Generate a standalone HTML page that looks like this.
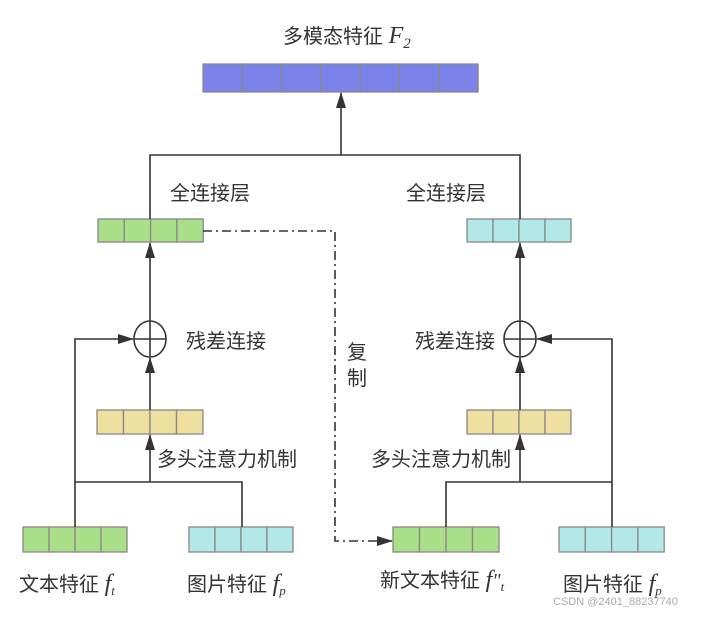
<!DOCTYPE html>
<html><head><meta charset="utf-8"><style>
body{margin:0;background:#fff}
svg text{font-family:"Liberation Sans","Noto Sans CJK SC",sans-serif;fill:#333;font-size:20px}
.m{font-family:"Liberation Serif",serif;font-style:italic}
</style></head><body>
<svg width="709" height="613" viewBox="0 0 709 613" xmlns="http://www.w3.org/2000/svg">
<defs>
<marker id="b" markerWidth="16" markerHeight="10" refX="15" refY="5" orient="auto" markerUnits="userSpaceOnUse"><path d="M0,0 L16,5 L0,10 z" fill="#333"/></marker>
</defs>
<g stroke="#888" stroke-width="1.3">
<g fill="#7b83eb"><rect x="203" y="64" width="39.3" height="28"/><rect x="242.3" y="64" width="39.3" height="28"/><rect x="281.6" y="64" width="39.3" height="28"/><rect x="320.9" y="64" width="39.3" height="28"/><rect x="360.2" y="64" width="39.3" height="28"/><rect x="399.5" y="64" width="39.3" height="28"/><rect x="438.8" y="64" width="39.3" height="28"/></g>
<g fill="#a8df88"><rect x="98" y="219" width="26.3" height="23"/><rect x="124.3" y="219" width="26.3" height="23"/><rect x="150.6" y="219" width="26.3" height="23"/><rect x="176.9" y="219" width="26.3" height="23"/></g>
<g fill="#b3e8e8"><rect x="467" y="219" width="26" height="23"/><rect x="493" y="219" width="26" height="23"/><rect x="519" y="219" width="26" height="23"/><rect x="545" y="219" width="26" height="23"/></g>
<g fill="#f0e0a0"><rect x="97" y="410" width="26.5" height="24"/><rect x="123.5" y="410" width="26.5" height="24"/><rect x="150" y="410" width="26.5" height="24"/><rect x="176.5" y="410" width="26.5" height="24"/>
<rect x="467" y="410" width="26" height="24"/><rect x="493" y="410" width="26" height="24"/><rect x="519" y="410" width="26" height="24"/><rect x="545" y="410" width="26" height="24"/></g>
<g fill="#a8df88"><rect x="23" y="527" width="26" height="25"/><rect x="49" y="527" width="26" height="25"/><rect x="75" y="527" width="26" height="25"/><rect x="101" y="527" width="26" height="25"/>
<rect x="393" y="527" width="26.5" height="25"/><rect x="419.5" y="527" width="26.5" height="25"/><rect x="446" y="527" width="26.5" height="25"/><rect x="472.5" y="527" width="26.5" height="25"/></g>
<g fill="#b3e8e8"><rect x="189" y="527" width="26" height="25"/><rect x="215" y="527" width="26" height="25"/><rect x="241" y="527" width="26" height="25"/><rect x="267" y="527" width="26" height="25"/>
<rect x="559" y="527" width="26.3" height="25"/><rect x="585.3" y="527" width="26.3" height="25"/><rect x="611.6" y="527" width="26.3" height="25"/><rect x="637.9" y="527" width="26.3" height="25"/></g>
</g>
<g stroke="#333" stroke-width="1.6" fill="none">
<line x1="341" y1="155" x2="341" y2="93" marker-end="url(#b)"/>
<polyline points="150,219 150,155 520,155 520,219"/>
<line x1="150" y1="321" x2="150" y2="243" marker-end="url(#b)"/>
<line x1="520" y1="321" x2="520" y2="243" marker-end="url(#b)"/>
<ellipse cx="150" cy="339" rx="16" ry="18"/><line x1="134" y1="339" x2="166" y2="339"/><line x1="150" y1="321" x2="150" y2="357"/>
<ellipse cx="520" cy="339" rx="16" ry="18"/><line x1="504" y1="339" x2="536" y2="339"/><line x1="520" y1="321" x2="520" y2="357"/>
<line x1="150" y1="410" x2="150" y2="358" marker-end="url(#b)"/>
<line x1="520" y1="410" x2="520" y2="358" marker-end="url(#b)"/>
<line x1="150" y1="482" x2="150" y2="435" marker-end="url(#b)"/>
<line x1="520" y1="482" x2="520" y2="435" marker-end="url(#b)"/>
<polyline points="75,527 75,339 133,339" marker-end="url(#b)"/>
<polyline points="75,482 242,482 242,527"/>
<polyline points="446,527 446,482 612,482"/>
<polyline points="612,527 612,339 537,339" marker-end="url(#b)"/>
<polyline points="203,231 335,231 335,541 392,541" stroke-dasharray="9,4,2,4" marker-end="url(#b)"/>
</g>
<text x="283" y="43">多模态特征 <tspan class="m" font-size="24">F</tspan><tspan class="m" font-size="15" dy="5">2</tspan></text>
<text x="170" y="200">全连接层</text>
<text x="406" y="200">全连接层</text>
<text x="186" y="348">残差连接</text>
<text x="415" y="348">残差连接</text>
<text x="347" y="359">复</text>
<text x="347" y="385">制</text>
<text x="157" y="466">多头注意力机制</text>
<text x="371" y="466">多头注意力机制</text>
<text x="19" y="591">文本特征 <tspan class="m" font-size="24">f</tspan><tspan class="m" font-size="13" dy="4">t</tspan></text>
<text x="187" y="591">图片特征 <tspan class="m" font-size="24">f</tspan><tspan class="m" font-size="13" dy="4">p</tspan></text>
<text x="380" y="587">新文本特征 <tspan class="m" font-size="24">f</tspan><tspan class="m" font-size="20">"</tspan><tspan class="m" font-size="13" dy="4">t</tspan></text>
<text x="563" y="591">图片特征 <tspan class="m" font-size="24"> f</tspan><tspan class="m" font-size="13" dy="4">p</tspan></text>
<text x="553" y="605" style="font-size:11px;fill:#aaa">CSDN @2401_88237740</text>
</svg>
</body></html>
